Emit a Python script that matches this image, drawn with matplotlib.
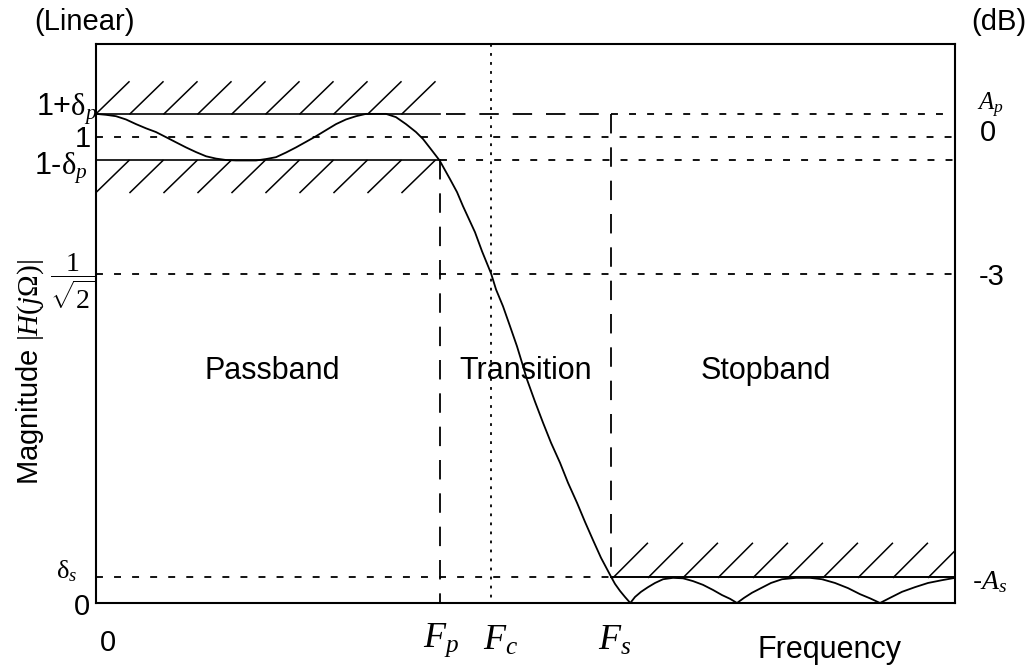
import matplotlib
matplotlib.use("Agg")
import matplotlib.pyplot as plt

# Filter specification levels (linear magnitude) and band edges (normalised frequency)
DELTA_P = 0.05          # passband ripple
DELTA_S = 0.055         # stopband ripple
F_P = 0.40              # passband edge
F_C = 0.46              # cutoff (-3 dB)
F_S = 0.60              # stopband edge

# Magnitude response samples: passband ripple
freq_pass = [0.000, 0.0116, 0.0233, 0.0349, 0.0466, 0.0582, 0.0698, 0.0815, 0.0931,
             0.1048, 0.1164, 0.1281, 0.1397, 0.1513, 0.1630, 0.1746, 0.1863, 0.1979,
             0.2095, 0.2212, 0.2328, 0.2445, 0.2561, 0.2677, 0.2794, 0.2910, 0.3027,
             0.3143, 0.3260, 0.3376, 0.3492, 0.3609, 0.3725, 0.3807, 0.3900, 0.400]
mag_pass = [1.050, 1.048, 1.045, 1.038, 1.028, 1.019, 1.011, 1.000, 0.989,
            0.978, 0.968, 0.959, 0.954, 0.951, 0.950, 0.950, 0.950, 0.953,
            0.957, 0.967, 0.978, 0.990, 1.002, 1.015, 1.028, 1.038, 1.045,
            1.050, 1.050, 1.050, 1.043, 1.028, 1.011, 0.996, 0.974, 0.950]

# Transition band roll-off
freq_trans = [0.4121, 0.4203, 0.4272, 0.4342, 0.4412, 0.4494, 0.460, 0.4657, 0.4738,
              0.4820, 0.4901, 0.4959, 0.5017, 0.5111, 0.5204, 0.5297, 0.5402, 0.5495,
              0.5600, 0.5693, 0.5786, 0.5879, 0.600, 0.6042, 0.6100, 0.6158, 0.622]
mag_trans = [0.910, 0.882, 0.852, 0.824, 0.796, 0.755, 0.707, 0.673, 0.637,
             0.594, 0.551, 0.516, 0.480, 0.432, 0.387, 0.344, 0.301, 0.258,
             0.215, 0.174, 0.135, 0.097, 0.055, 0.041, 0.026, 0.013, 0.000]

# Stopband ripple
freq_stop = [0.6275, 0.6345, 0.6426, 0.6508, 0.6601, 0.6717, 0.6834, 0.6950, 0.7066,
             0.7183, 0.7288, 0.7381, 0.7462, 0.7544, 0.7637, 0.7742, 0.7858, 0.7986,
             0.8149, 0.8312, 0.8452, 0.8603, 0.8754, 0.8894, 0.9011, 0.9127, 0.9243,
             0.9383, 0.9534, 0.9686, 0.9849, 1.000]
mag_stop = [0.013, 0.024, 0.034, 0.043, 0.051, 0.054, 0.053, 0.047, 0.039,
            0.028, 0.017, 0.009, 0.000, 0.011, 0.022, 0.032, 0.043, 0.051,
            0.054, 0.054, 0.051, 0.043, 0.032, 0.019, 0.010, 0.000, 0.011,
            0.024, 0.034, 0.043, 0.049, 0.054]

region_labels = ["Passband", "Transition", "Stopband"]

plt.rcParams["font.family"] = ["Liberation Sans", "DejaVu Sans"]
plt.rcParams["mathtext.fontset"] = "custom"
plt.rcParams["mathtext.rm"] = "Liberation Serif"
plt.rcParams["mathtext.it"] = "Liberation Serif:italic"
plt.rcParams["mathtext.bf"] = "Liberation Serif:bold"
plt.rcParams["lines.scale_dashes"] = False

W, H = 1033, 670
fig = plt.figure(figsize=(W / 100, H / 100), dpi=100)
ax = fig.add_axes([96 / W, 1 - 603 / H, (955 - 96) / W, (603 - 44) / H])
ax.set_xlim(0, 1)
ax.set_ylim(0, 1.2)
ax.set_xticks([])
ax.set_yticks([])
for s in ax.spines.values():
    s.set_linewidth(1.5)

SHORT = (0, (5, 8))
LONG = (0, (14, 10))
DOT = (0, (2, 4.5))
k = "black"

# Specification lines
ax.plot([0, F_P], [1 + DELTA_P] * 2, color=k, lw=1.2)
ax.plot([0, F_P], [1 - DELTA_P] * 2, color=k, lw=1.2)
ax.plot([F_P + 0.008, F_S], [1 + DELTA_P] * 2, color=k, lw=1.3, ls=LONG)
ax.plot([F_S, 1], [1 + DELTA_P] * 2, color=k, lw=1.3, ls=SHORT)
ax.plot([F_P, 1], [1 - DELTA_P] * 2, color=k, lw=1.3, ls=SHORT)
ax.plot([0, 1], [1, 1], color=k, lw=1.3, ls=SHORT)
ax.plot([0, 1], [2 ** -0.5] * 2, color=k, lw=1.3, ls=SHORT)
ax.plot([0, F_S], [DELTA_S] * 2, color=k, lw=1.3, ls=SHORT)
ax.plot([F_S, 1], [DELTA_S] * 2, color=k, lw=1.4)
ax.plot([F_P, F_P], [1 - DELTA_P, 0], color=k, lw=1.3, ls=LONG)
ax.plot([F_S, F_S], [1 + DELTA_P, DELTA_S], color=k, lw=1.3, ls=LONG)
ax.plot([F_C, F_C], [1.2, 0], color=k, lw=1.3, ls=DOT)

# Hatched forbidden regions (45-degree strokes on screen)
px_x = 1 / 859
px_y = 1 / 465
x = 0.0
while x + 33 * px_x <= F_P:
    ax.plot([x, x + 33 * px_x], [1 + DELTA_P, 1 + DELTA_P + 32 * px_y], color=k, lw=1.1)
    ax.plot([x, x + 33 * px_x], [1 - DELTA_P - 32 * px_y, 1 - DELTA_P], color=k, lw=1.1)
    x += 34 * px_x
x = F_S + 2 * px_x
while x < 1:
    ax.plot([x, x + 34 * px_x], [DELTA_S, DELTA_S + 34 * px_y], color=k, lw=1.1)
    x += 35 * px_x

# Response curve
ax.plot(freq_pass + freq_trans + freq_stop, mag_pass + mag_trans + mag_stop,
        color=k, lw=1.3, solid_joinstyle="round")


def lab(text, xy, dx, dy, size, ha="center", va="center"):
    ax.annotate(text, xy=xy, xycoords="data", xytext=(dx * 0.72, dy * 0.72),
                textcoords="offset points", ha=ha, va=va, fontsize=size,
                annotation_clip=False)


# Level labels on the left
lab(r"1+$\mathrm{\delta}_p$", (0, 1 + DELTA_P), 1, -2, 22, ha="right", va="baseline")
lab("1", (0, 1), -13, -2, 21)
lab(r"1-$\mathrm{\delta}_p$", (0, 1 - DELTA_P), -8, -14, 22, ha="right", va="baseline")
lab(r"$\dfrac{1}{\sqrt{2}}$", (0, 2 ** -0.5), -23, -8, 20)
lab(r"$\mathrm{\delta}_s$", (0, DELTA_S), -19, -1, 19, ha="right", va="baseline")
lab("0", (0, 0), -14, -4, 21)
lab("0", (0, 0), 12, -40, 21)

# Frequency labels
lab(r"$F_p$", (F_P, 0), 1, -37, 26)
lab(r"$F_c$", (F_C, 0), 9, -37, 26)
lab(r"$F_s$", (F_S, 0), 3, -37, 26)

# dB labels on the right
lab(r"$A_p$", (1, 1 + DELTA_P), 22, 8, 18, ha="left")
lab("0", (1, 1), 33, 4, 21)
lab("-3", (1, 2 ** -0.5), 37, -3, 21)
lab(r"-$A_s$", (1, DELTA_S), 35, -5, 20)

# Region names
ax.text(F_P / 2 + 0.005, 0.497, region_labels[0], ha="center", va="center", fontsize=22)
ax.text((F_P + F_S) / 2, 0.497, region_labels[1], ha="center", va="center", fontsize=22)
ax.text((F_S + 1) / 2 - 0.02, 0.497, region_labels[2], ha="center", va="center", fontsize=22)

fig.text(84 / W, 1 - 22 / H, "(Linear)", ha="center", va="center", fontsize=21)
fig.text(999 / W, 1 - 22 / H, "(dB)", ha="center", va="center", fontsize=21)
fig.text(830 / W, 1 - 650 / H, "Frequency", ha="center", va="center", fontsize=22)
fig.text(30 / W, 1 - 372 / H, r"Magnitude $|H(j\Omega)|$", ha="center", va="center",
         rotation=90, fontsize=21)

fig.savefig("out.png", dpi=100)
